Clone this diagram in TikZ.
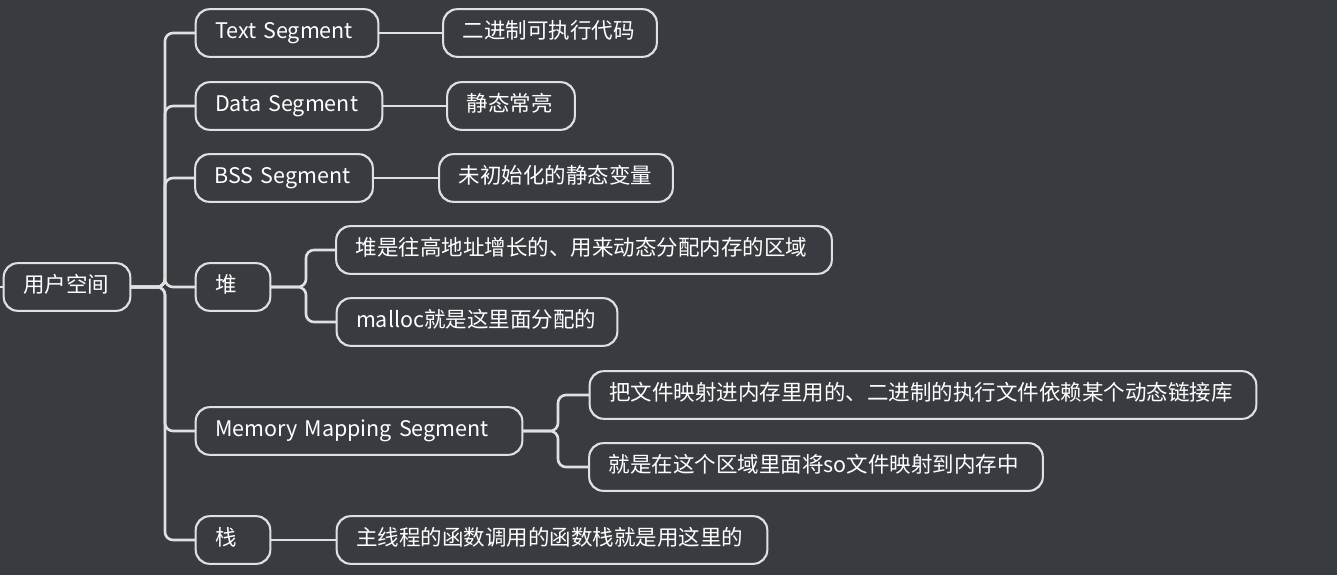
\documentclass[tikz,border=0pt]{standalone}
\usepackage{fontspec}
\setmainfont{Noto Sans CJK SC}
\begin{document}
\begin{tikzpicture}[x=1pt,y=-1pt,
  box/.style={draw=white!88!black,line width=1.3pt,fill=bg,rounded corners=14pt,text=white,font=\fontsize{21.5}{24}\selectfont,inner xsep=19pt,inner ysep=0pt,text width=#1pt-38pt,align=left,text height=15pt,text depth=4pt,minimum height=47pt,anchor=center},
  ln/.style={draw=white!88!black,line width=2.6pt,rounded corners=8pt}]
\definecolor{bg}{HTML}{383B40}
\fill[bg] (0,0) rectangle (1337,575);
\useasboundingbox (0,0) rectangle (1337,575);
\node[box=126] (root) at (67,287) {用户空间};
\node[box=182] (ts) at (287,33) {Text Segment};
\node[box=213] (ts1) at (550,33) {二进制可执行代码};
\node[box=186] (ds) at (289,106) {Data Segment};
\node[box=127] (ds1) at (511,106) {静态常亮};
\node[box=177] (bss) at (284,178) {BSS Segment};
\node[box=233] (bss1) at (556,178) {未初始化的静态变量};
\node[box=74] (heap) at (233,287) {堆};
\node[box=495] (heap1) at (584,250) {堆是往高地址增长的、用来动态分配内存的区域};
\node[box=280] (heap2) at (477,322) {malloc就是这里面分配的};
\node[box=326] (mms) at (359,431) {Memory Mapping Segment};
\node[box=666] (mms1) at (923,395) {把文件映射进内存里用的、二进制的执行文件依赖某个动态链接库};
\node[box=453] (mms2) at (816,467) {就是在这个区域里面将so文件映射到内存中};
\node[box=74] (stk) at (233,540) {栈};
\node[box=430] (stk1) at (552,540) {主线程的函数调用的函数栈就是用这里的};
\coordinate (lt) at (0,287);
\coordinate (tr) at (165,287);
\draw[ln] (lt) -- (root.west);
\foreach \c in {ts,ds,bss,heap,mms,stk} \draw[ln] (root.east) -- (tr) |- (\c.west);
\draw[ln] (ts.east) -- (ts1.west);
\draw[ln] (ds.east) -- (ds1.west);
\draw[ln] (bss.east) -- (bss1.west);
\draw[ln] (stk.east) -- (stk1.west);
\coordinate (hj) at (306,287);
\coordinate (mj) at (558,431);
\foreach \c in {heap1,heap2} \draw[ln] (heap.east) -- (hj) |- (\c.west);
\foreach \c in {mms1,mms2} \draw[ln] (mms.east) -- (mj) |- (\c.west);
\foreach \n in {root,ts,ts1,ds,ds1,bss,bss1,heap,heap1,heap2,mms,mms1,mms2,stk,stk1}
  \draw[draw=white!88!black,line width=1.3pt,rounded corners=14pt] (\n.south west) rectangle (\n.north east);
\end{tikzpicture}
\end{document}
